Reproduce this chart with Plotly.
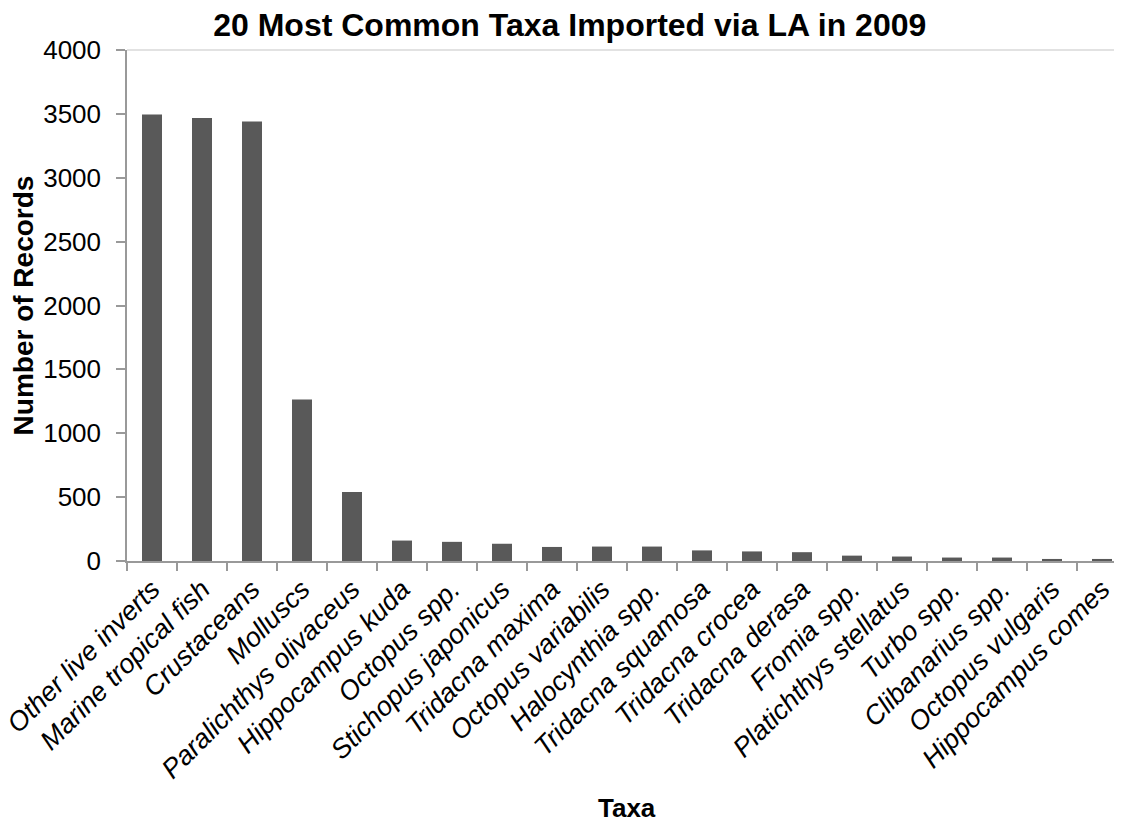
import plotly.graph_objects as go

taxa = [
    "Other live inverts", "Marine tropical fish", "Crustaceans", "Molluscs",
    "Paralichthys olivaceus", "Hippocampus kuda", "Octopus spp.", "Stichopus japonicus",
    "Tridacna maxima", "Octopus variabilis", "Halocynthia spp.", "Tridacna squamosa",
    "Tridacna crocea", "Tridacna derasa", "Fromia spp.", "Platichthys stellatus",
    "Turbo spp.", "Clibanarius spp.", "Octopus vulgaris", "Hippocampus comes",
]
records = [3495, 3468, 3440, 1265, 540, 160, 150, 135, 110, 113, 113, 83,
           75, 69, 42, 35, 27, 27, 16, 16]
y_ticks = [0, 500, 1000, 1500, 2000, 2500, 3000, 3500, 4000]

FONT = "Liberation Sans, Arial, sans-serif"

fig = go.Figure(go.Bar(x=taxa, y=records, marker=dict(color="#595959", line=dict(width=0))))

# page body has an 8px margin, so the figure is offset by 8px
fig.update_layout(
    width=1119, height=815,
    margin=dict(l=119, r=0, t=42, b=262, autoexpand=False),
    paper_bgcolor="white", plot_bgcolor="white",
    bargap=0.6,
    showlegend=False,
    title=dict(text="<b>20 Most Common Taxa Imported via LA in 2009</b>",
               x=0.502, xanchor="center", y=0.979, yanchor="middle",
               font=dict(family=FONT, size=32, color="black")),
    font=dict(family=FONT, color="black"),
)

fig.update_xaxes(
    type="category", tickangle=-45, tickson="boundaries", automargin=False,
    ticks="outside", ticklen=8, tickcolor="#999999", tickwidth=1.5,
    showline=True, linecolor="#999999", linewidth=1.5,
    showgrid=False,
    tickfont=dict(family=FONT, size=27, color="black", style="italic"),
)
fig.update_yaxes(
    range=[0, 4000], tickvals=y_ticks, automargin=False,
    ticks="outside", ticklen=9, tickcolor="#999999", tickwidth=1.5,
    showline=True, linecolor="#999999", linewidth=1.5,
    showgrid=False, zeroline=False, ticklabelstandoff=10,
    tickfont=dict(family=FONT, size=26, color="black"),
    title=dict(text="<b>Number of Records</b>", font=dict(family=FONT, size=28, color="black"), standoff=4),
)

fig.add_annotation(text="<b>Taxa</b>", xref="paper", yref="paper", x=0.5, y=-0.4834,
                   xanchor="center", yanchor="middle", showarrow=False,
                   font=dict(family=FONT, size=26, color="black"))

fig.add_shape(type="line", xref="paper", yref="paper", x0=0, x1=1, y0=1, y1=1,
              line=dict(color="#d9d9d9", width=1.5))

fig.write_html("out.html")
